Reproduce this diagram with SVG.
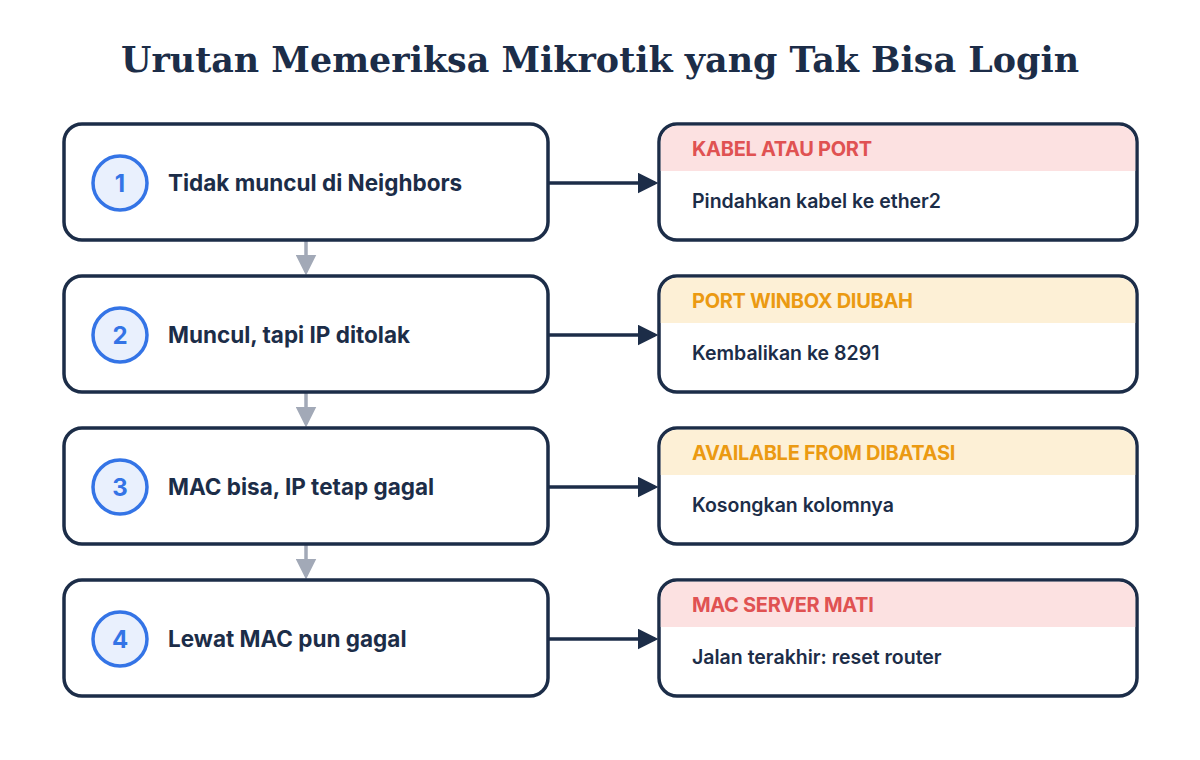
<svg xmlns="http://www.w3.org/2000/svg" width="1200" height="760" viewBox="0 0 1200 760">
<style>
.box{fill:#fff;stroke:#1c2d48;stroke-width:3.5}
.num{fill:#e9f0fd;stroke:#3474e6;stroke-width:3.5}
.numt{font:700 24px "Inter","Liberation Sans",sans-serif;fill:#3474e6;text-anchor:middle}
.lt{font:700 22.5px "Inter","Liberation Sans",sans-serif;fill:#1c2d48}
.ht{font:700 20px "Inter","Liberation Sans",sans-serif;letter-spacing:-0.3px}
.bt{font:600 19.5px "Inter","Liberation Sans",sans-serif;fill:#1c2d48}
.red{fill:#fce1e1}.redt{fill:#e05252}
.amb{fill:#fdf0d6}.ambt{fill:#eb9a12}
.c{stroke:#1c2d48;stroke-width:3.5;fill:none}
.g{stroke:#a2a9b7;stroke-width:3.5;fill:none}
</style>
<defs>
<marker id="ad" markerWidth="6" markerHeight="6" refX="5" refY="3" orient="auto" markerUnits="strokeWidth"><path d="M0,0 L6,3 L0,6z" fill="#1c2d48"/></marker>
<marker id="ag" markerWidth="6" markerHeight="6" refX="5" refY="3" orient="auto" markerUnits="strokeWidth"><path d="M0,0 L6,3 L0,6z" fill="#a2a9b7"/></marker>
</defs>
<rect width="1200" height="760" fill="#fff"/>
<text x="600" y="72" text-anchor="middle" textLength="958" lengthAdjust="spacingAndGlyphs" style="font:700 36px 'DejaVu Serif','Liberation Serif',serif;fill:#1c2d48">Urutan Memeriksa Mikrotik yang Tak Bisa Login</text>
<g id="connectors">
<line class="c" x1="549" y1="183" x2="655" y2="183" marker-end="url(#ad)"/>
<line class="c" x1="549" y1="335" x2="655" y2="335" marker-end="url(#ad)"/>
<line class="c" x1="549" y1="487" x2="655" y2="487" marker-end="url(#ad)"/>
<line class="c" x1="549" y1="639" x2="655" y2="639" marker-end="url(#ad)"/>
<line class="g" x1="306" y1="240" x2="306" y2="272" marker-end="url(#ag)"/>
<line class="g" x1="306" y1="392" x2="306" y2="424" marker-end="url(#ag)"/>
<line class="g" x1="306" y1="544" x2="306" y2="576" marker-end="url(#ag)"/>
</g>
<g id="step1"><rect class="box" x="64" y="124" width="484" height="116" rx="18"/><circle class="num" cx="120" cy="183" r="27"/><text class="numt" x="120" y="192">1</text><text class="lt" x="168" y="191">Tidak muncul di Neighbors</text></g>
<g id="step2"><rect class="box" x="64" y="276" width="484" height="116" rx="18"/><circle class="num" cx="120" cy="335" r="27"/><text class="numt" x="120" y="344">2</text><text class="lt" x="168" y="343">Muncul, tapi IP ditolak</text></g>
<g id="step3"><rect class="box" x="64" y="428" width="484" height="116" rx="18"/><circle class="num" cx="120" cy="487" r="27"/><text class="numt" x="120" y="496">3</text><text class="lt" x="168" y="495">MAC bisa, IP tetap gagal</text></g>
<g id="step4"><rect class="box" x="64" y="580" width="484" height="116" rx="18"/><circle class="num" cx="120" cy="639" r="27"/><text class="numt" x="120" y="648">4</text><text class="lt" x="168" y="647">Lewat MAC pun gagal</text></g>
<g id="fix1"><rect class="box" x="659" y="124" width="478" height="116" rx="18"/><path class="red" d="M677,125.75 H1119 A16.25,16.25 0 0 1 1135.25,142 V171 H660.75 V142 A16.25,16.25 0 0 1 677,125.75z"/><text class="ht redt" x="692" y="156">KABEL ATAU PORT</text><text class="bt" x="692" y="208">Pindahkan kabel ke ether2</text></g>
<g id="fix2"><rect class="box" x="659" y="276" width="478" height="116" rx="18"/><path class="amb" d="M677,277.75 H1119 A16.25,16.25 0 0 1 1135.25,294 V323 H660.75 V294 A16.25,16.25 0 0 1 677,277.75z"/><text class="ht ambt" x="692" y="308">PORT WINBOX DIUBAH</text><text class="bt" x="692" y="360">Kembalikan ke 8291</text></g>
<g id="fix3"><rect class="box" x="659" y="428" width="478" height="116" rx="18"/><path class="amb" d="M677,429.75 H1119 A16.25,16.25 0 0 1 1135.25,446 V475 H660.75 V446 A16.25,16.25 0 0 1 677,429.75z"/><text class="ht ambt" x="692" y="460">AVAILABLE FROM DIBATASI</text><text class="bt" x="692" y="512">Kosongkan kolomnya</text></g>
<g id="fix4"><rect class="box" x="659" y="580" width="478" height="116" rx="18"/><path class="red" d="M677,581.75 H1119 A16.25,16.25 0 0 1 1135.25,598 V627 H660.75 V598 A16.25,16.25 0 0 1 677,581.75z"/><text class="ht redt" x="692" y="612">MAC SERVER MATI</text><text class="bt" x="692" y="664">Jalan terakhir: reset router</text></g>
</svg>
